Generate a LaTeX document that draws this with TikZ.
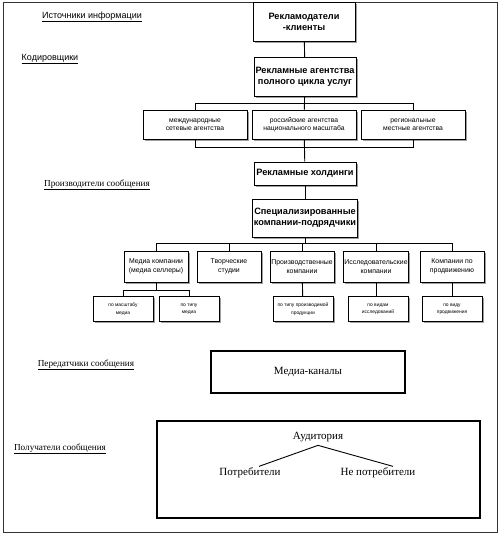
\documentclass[tikz,border=0pt]{standalone}
\usepackage{fontspec}
\setmainfont{Liberation Serif}
\setsansfont{Liberation Sans}
\usetikzlibrary{shadows}
\usetikzlibrary{positioning}
\tikzset{block/.style={draw, line width=0.9pt, text centered, fill=white, inner sep=1pt, align=center, font=\sffamily,
  drop shadow={shadow xshift=1.6pt, shadow yshift=-1.6pt, fill=gray!75, opacity=1}}}
\tikzset{bigblock/.style={block, minimum width=102pt, font=\sffamily\bfseries\fontsize{9.2}{11}\selectfont}}
\tikzset{midblock/.style={block, minimum width=64pt, minimum height=31pt, font=\sffamily\fontsize{6.9}{8.5}\selectfont}}
\tikzset{smallblock/.style={block, minimum width=60pt, minimum height=25pt, line width=0.7pt, font=\sffamily\fontsize{4.9}{7.5}\selectfont}}
\tikzset{connect/.style={draw, line width=0.9pt}}
\tikzset{levelsans/.style={font=\sffamily\fontsize{9}{10}\selectfont}}
\tikzset{levelserif/.style={font=\fontsize{9.2}{10}\selectfont}}

\begin{document}
\begin{tikzpicture}[x=1pt,y=-1pt]
\useasboundingbox (0,0) rectangle (500,535);
\draw[line width=1pt, black!80] (3,3) rectangle (497,532);

% levels
\node[levelsans] (lsrc) at (92,17) {\underline{Источники информации}};
\node[levelsans] (lenc) at (50,59) {\underline{Кодировщики}};
\node[levelserif] (lprod) at (97,185) {\underline{Производители сообщения}};
\node[levelserif] (ltrans) at (86,365) {\underline{Передатчики сообщения}};
\node[levelserif] (lrecv) at (60,449) {\underline{Получатели сообщения}};

% top chain
\node[bigblock,minimum height=39pt] (client) at (304,22) {Рекламодатели\\-клиенты};
\node[bigblock,minimum height=39pt] (full) at (305,77) {Рекламные агентства\\полного цикла услуг};
\node[block,minimum width=104pt,minimum height=29pt,font=\sffamily\fontsize{6.8}{8.5}\selectfont] (intl) at (195,124.5) {международные\\сетевые агентства};
\node[block,minimum width=104pt,minimum height=29pt,font=\sffamily\fontsize{6.8}{8.5}\selectfont] (nat) at (304,124.5) {российские агентства\\национального масштаба};
\node[block,minimum width=104pt,minimum height=29pt,font=\sffamily\fontsize{6.8}{8.5}\selectfont] (reg) at (413,124.5) {региональные\\местные агентства};
\node[bigblock,minimum height=23pt] (hold) at (305,173.5) {Рекламные холдинги};
\node[bigblock,minimum height=38pt] (spec) at (305,218) {Специализированные\\компании-подрядчики};

% contractors
\node[midblock] (media) at (156,266.5) {Медиа компании\\(медиа селлеры)};
\node[midblock] (studio) at (229,266.5) {Творческие\\студии};
\node[midblock] (prodco) at (302,266.5) {Производственные\\компании};
\node[midblock] (research) at (376,266.5) {Исследовательские\\компании};
\node[midblock] (promo) at (452,266.5) {Компании по\\продвижению};

\node[smallblock] (mscale) at (123,309) {по масштабу\\медиа};
\node[smallblock] (mtype) at (189,309) {по типу\\медиа};
\node[smallblock] (ptype) at (303,309) {по типу производимой\\продукции};
\node[smallblock] (rtype) at (378,309) {по видам\\исследований};
\node[smallblock] (ptype2) at (452,309) {по виду\\продвижения};

% lower part
\node[draw,line width=1.2pt,minimum width=194pt,minimum height=42pt,font=\fontsize{11}{13}\selectfont] (chan) at (308,372) {Медиа-каналы};
\node[draw,line width=1.1pt,minimum width=323pt,minimum height=97pt] (audbox) at (318.5,469.5) {};
\node[font=\fontsize{11}{13}\selectfont] (aud) at (318,437) {Аудитория};
\node[font=\fontsize{11}{13}\selectfont] (cons) at (250,473) {Потребители};
\node[font=\fontsize{11}{13}\selectfont] (noncons) at (378,473) {Не потребители};

% connectors
\path[connect] (client) -- (full);
\path[connect] (full) -- (nat);
\path (full.south) ++(0,6) coordinate (brA);
\path (nat.south) ++(0,8) coordinate (brB);
\path[connect] (intl.north) |- (brA) -| (reg.north);
\path[connect] (intl.south) |- (brB) -| (reg.south);
\path[connect] (nat) -- (hold);
\path[connect] (hold) -- (spec);
\path (spec.south) ++(0,6) coordinate (brC);
\path[connect] (spec.south) -- (brC);
\path[connect] (media.north) |- (brC) -| (promo.north);
\path[connect] (studio.north) -- (studio.north |- brC);
\path[connect] (prodco.north) -- (prodco.north |- brC);
\path[connect] (research.north) -- (research.north |- brC);
\path (media.south) ++(0,8) coordinate (brD);
\path[connect] (media.south) -- (brD);
\path[connect] (mscale.north) |- (brD) -| (mtype.north);
\path[connect] (prodco) -- (ptype);
\path[connect] (research.south) -- (research.south |- rtype.north);
\path[connect] (promo) -- (ptype2);
\path[connect] (aud.south) -- ([xshift=9pt,yshift=-2pt]cons.north);
\path[connect] (aud.south) -- ([xshift=15pt,yshift=-2pt]noncons.north);

\end{tikzpicture}
\end{document}
